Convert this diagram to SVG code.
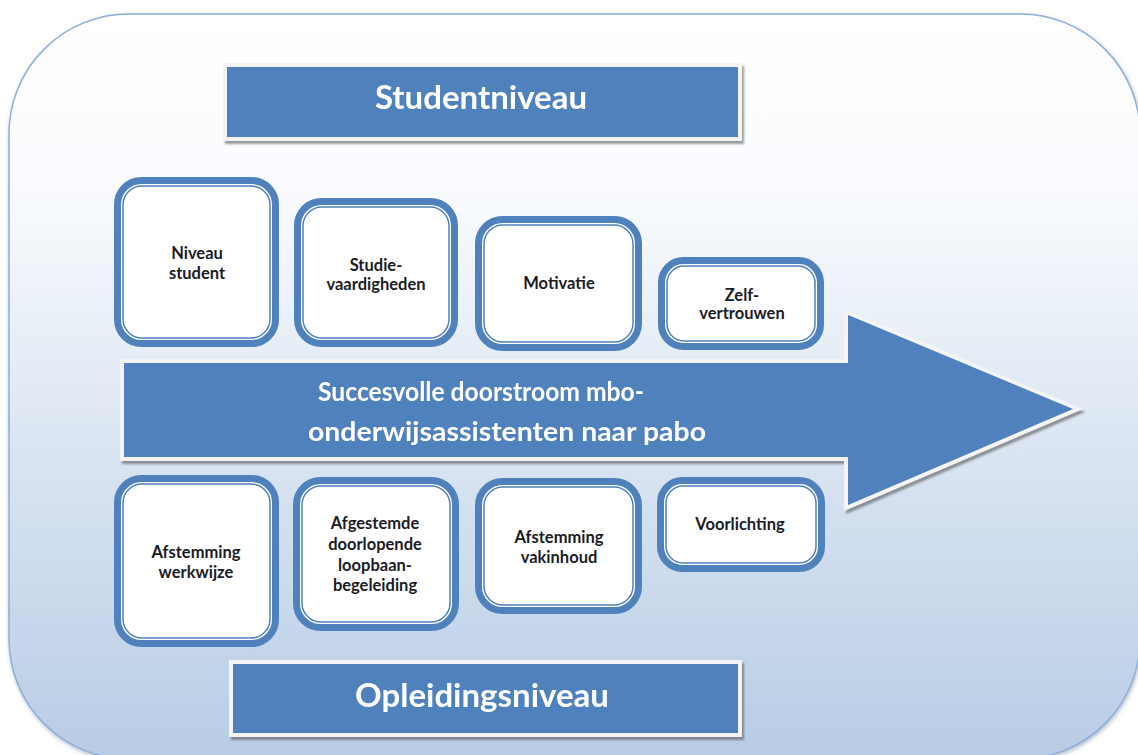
<svg xmlns="http://www.w3.org/2000/svg" width="1138" height="755" viewBox="0 0 1138 755">
  <defs>
    <linearGradient id="bgGrad" x1="0" y1="0" x2="0" y2="1">
      <stop offset="0" stop-color="#ffffff"/>
      <stop offset="0.25" stop-color="#f8fafd"/>
      <stop offset="0.55" stop-color="#dde7f3"/>
      <stop offset="1" stop-color="#b8cce5"/>
    </linearGradient>
    <filter id="shadow" x="-5%" y="-5%" width="115%" height="125%">
      <feDropShadow dx="2" dy="3" stdDeviation="1.2" flood-color="#4a4a4a" flood-opacity="0.55"/>
    </filter>
    <filter id="softShadow" x="-5%" y="-5%" width="110%" height="110%">
      <feDropShadow dx="1" dy="2" stdDeviation="2" flood-color="#6b7f99" flood-opacity="0.5"/>
    </filter>
  </defs>
  <style>
    .frame { fill: url(#bgGrad); stroke: #8eafd9; stroke-width: 1.5; }
    .banner { fill: #4f81bd; stroke: #f4f4f4; stroke-width: 4; }
    .bannerText { font-family: Lato, "Open Sans", "Liberation Sans", sans-serif; font-weight: bold; fill: #ffffff; text-anchor: middle; }
    .outer { fill: #ffffff; stroke: #4f81bd; stroke-width: 7; }
    .inner { fill: #ffffff; stroke: #4f81bd; stroke-width: 1.5; }
    .label { font-family: Lato, "Open Sans", "Liberation Sans", sans-serif; font-weight: bold; font-size: 16.5px; fill: #1b1b24; text-anchor: middle; }
  </style>

  <!-- background panel -->
  <rect class="frame" x="9" y="14" width="1131" height="745" rx="120" ry="120" filter="url(#softShadow)"/>

  <!-- central arrow -->
  <g id="arrow" filter="url(#shadow)">
    <path d="M122 361 H846 V312 L1078 409 L846 508 V459 H122 Z" fill="#4f81bd" stroke="#f4f4f4" stroke-width="4" stroke-linejoin="miter"/>
    <text class="bannerText" font-size="26" x="481" y="401" textLength="326" lengthAdjust="spacingAndGlyphs">Succesvolle doorstroom mbo-</text>
    <text class="bannerText" font-size="26" x="507" y="441" textLength="398" lengthAdjust="spacingAndGlyphs">onderwijsassistenten naar pabo</text>
  </g>

  <!-- level headers -->
  <g id="studentniveau" filter="url(#shadow)">
    <rect class="banner" x="225" y="65" width="515" height="74"/>
    <text class="bannerText" font-size="33" x="481" y="109">Studentniveau</text>
  </g>
  <g id="opleidingsniveau" filter="url(#shadow)">
    <rect class="banner" x="231" y="662" width="509" height="73"/>
    <text class="bannerText" font-size="33" x="482" y="707">Opleidingsniveau</text>
  </g>

  <!-- student-level factors -->
  <g id="niveau-student">
    <rect class="outer" x="117.5" y="180.5" width="158" height="163" rx="24"/>
    <rect class="inner" x="123" y="186" width="147" height="152" rx="19"/>
    <text class="label" x="197" y="259">Niveau</text>
    <text class="label" x="197" y="279">student</text>
  </g>
  <g id="studievaardigheden">
    <rect class="outer" x="297.5" y="201.5" width="157" height="142" rx="24"/>
    <rect class="inner" x="303" y="207" width="146" height="131" rx="19"/>
    <text class="label" x="376" y="271">Studie-</text>
    <text class="label" x="376" y="290">vaardigheden</text>
  </g>
  <g id="motivatie">
    <rect class="outer" x="478.5" y="219.5" width="160" height="128" rx="24"/>
    <rect class="inner" x="484" y="225" width="149" height="117" rx="19"/>
    <text class="label" x="559" y="289">Motivatie</text>
  </g>
  <g id="zelfvertrouwen">
    <rect class="outer" x="661.5" y="260.5" width="159" height="86" rx="22"/>
    <rect class="inner" x="667" y="266" width="148" height="75" rx="17"/>
    <text class="label" x="742" y="301">Zelf-</text>
    <text class="label" x="742" y="319">vertrouwen</text>
  </g>

  <!-- programme-level factors -->
  <g id="afstemming-werkwijze">
    <rect class="outer" x="117.5" y="478.5" width="158" height="165" rx="24"/>
    <rect class="inner" x="123" y="484" width="147" height="154" rx="19"/>
    <text class="label" x="196" y="558">Afstemming</text>
    <text class="label" x="196" y="578">werkwijze</text>
  </g>
  <g id="loopbaanbegeleiding">
    <rect class="outer" x="296.5" y="480.5" width="159" height="147" rx="24"/>
    <rect class="inner" x="302" y="486" width="148" height="136" rx="19"/>
    <text class="label" x="375" y="529">Afgestemde</text>
    <text class="label" x="375" y="550">doorlopende</text>
    <text class="label" x="375" y="571">loopbaan-</text>
    <text class="label" x="375" y="591">begeleiding</text>
  </g>
  <g id="afstemming-vakinhoud">
    <rect class="outer" x="478.5" y="481.5" width="160" height="129" rx="24"/>
    <rect class="inner" x="484" y="487" width="149" height="118" rx="19"/>
    <text class="label" x="559" y="543">Afstemming</text>
    <text class="label" x="559" y="563">vakinhoud</text>
  </g>
  <g id="voorlichting">
    <rect class="outer" x="660.5" y="480.5" width="161" height="88" rx="22"/>
    <rect class="inner" x="666" y="486" width="150" height="77" rx="17"/>
    <text class="label" x="740" y="530">Voorlichting</text>
  </g>
</svg>
